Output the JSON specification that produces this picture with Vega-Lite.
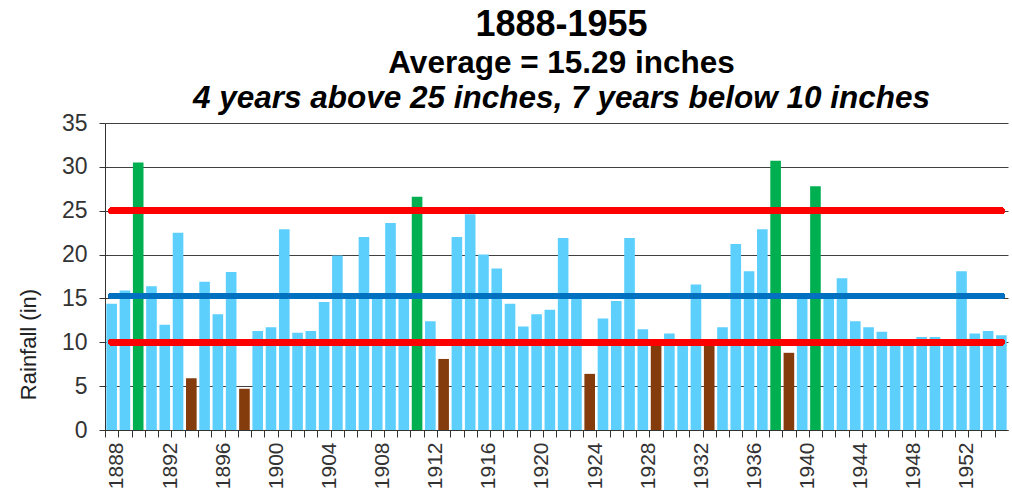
{
  "$schema": "https://vega.github.io/schema/vega-lite/v6.json",
  "width": 903,
  "height": 307,
  "autosize": {"type": "none"},
  "padding": {"left": 105, "top": 123, "right": 4, "bottom": 67},
  "background": "white",
  "config": {
    "font": "Liberation Sans",
    "view": {"stroke": null}
  },
  "title": {
    "text": "1888-1955",
    "subtitle": "Average = 15.29 inches",
    "anchor": "middle",
    "dx": 5,
    "font": "Liberation Sans",
    "fontSize": 36,
    "fontWeight": "bold",
    "color": "#000000",
    "subtitleFont": "Liberation Sans",
    "subtitleFontSize": 31.5,
    "subtitleFontWeight": "bold",
    "subtitleColor": "#000000",
    "subtitlePadding": 4,
    "offset": 2
  },
  "data": {
    "values": [
      {"year": 1888, "rain": 14.4, "cat": "normal"},
      {"year": 1889, "rain": 15.9, "cat": "normal"},
      {"year": 1890, "rain": 30.5, "cat": "high"},
      {"year": 1891, "rain": 16.4, "cat": "normal"},
      {"year": 1892, "rain": 12.0, "cat": "normal"},
      {"year": 1893, "rain": 22.5, "cat": "normal"},
      {"year": 1894, "rain": 5.9, "cat": "low"},
      {"year": 1895, "rain": 16.9, "cat": "normal"},
      {"year": 1896, "rain": 13.2, "cat": "normal"},
      {"year": 1897, "rain": 18.0, "cat": "normal"},
      {"year": 1898, "rain": 4.7, "cat": "low"},
      {"year": 1899, "rain": 11.3, "cat": "normal"},
      {"year": 1900, "rain": 11.7, "cat": "normal"},
      {"year": 1901, "rain": 22.9, "cat": "normal"},
      {"year": 1902, "rain": 11.1, "cat": "normal"},
      {"year": 1903, "rain": 11.3, "cat": "normal"},
      {"year": 1904, "rain": 14.6, "cat": "normal"},
      {"year": 1905, "rain": 19.9, "cat": "normal"},
      {"year": 1906, "rain": 15.2, "cat": "normal"},
      {"year": 1907, "rain": 22.0, "cat": "normal"},
      {"year": 1908, "rain": 15.2, "cat": "normal"},
      {"year": 1909, "rain": 23.6, "cat": "normal"},
      {"year": 1910, "rain": 15.2, "cat": "normal"},
      {"year": 1911, "rain": 26.6, "cat": "high"},
      {"year": 1912, "rain": 12.4, "cat": "normal"},
      {"year": 1913, "rain": 8.1, "cat": "low"},
      {"year": 1914, "rain": 22.0, "cat": "normal"},
      {"year": 1915, "rain": 24.6, "cat": "normal"},
      {"year": 1916, "rain": 20.0, "cat": "normal"},
      {"year": 1917, "rain": 18.4, "cat": "normal"},
      {"year": 1918, "rain": 14.4, "cat": "normal"},
      {"year": 1919, "rain": 11.8, "cat": "normal"},
      {"year": 1920, "rain": 13.2, "cat": "normal"},
      {"year": 1921, "rain": 13.7, "cat": "normal"},
      {"year": 1922, "rain": 21.9, "cat": "normal"},
      {"year": 1923, "rain": 15.2, "cat": "normal"},
      {"year": 1924, "rain": 6.4, "cat": "low"},
      {"year": 1925, "rain": 12.7, "cat": "normal"},
      {"year": 1926, "rain": 14.7, "cat": "normal"},
      {"year": 1927, "rain": 21.9, "cat": "normal"},
      {"year": 1928, "rain": 11.5, "cat": "normal"},
      {"year": 1929, "rain": 9.8, "cat": "low"},
      {"year": 1930, "rain": 11.0, "cat": "normal"},
      {"year": 1931, "rain": 10.2, "cat": "normal"},
      {"year": 1932, "rain": 16.6, "cat": "normal"},
      {"year": 1933, "rain": 9.7, "cat": "low"},
      {"year": 1934, "rain": 11.7, "cat": "normal"},
      {"year": 1935, "rain": 21.2, "cat": "normal"},
      {"year": 1936, "rain": 18.1, "cat": "normal"},
      {"year": 1937, "rain": 22.9, "cat": "normal"},
      {"year": 1938, "rain": 30.7, "cat": "high"},
      {"year": 1939, "rain": 8.8, "cat": "low"},
      {"year": 1940, "rain": 15.2, "cat": "normal"},
      {"year": 1941, "rain": 27.8, "cat": "high"},
      {"year": 1942, "rain": 15.2, "cat": "normal"},
      {"year": 1943, "rain": 17.3, "cat": "normal"},
      {"year": 1944, "rain": 12.4, "cat": "normal"},
      {"year": 1945, "rain": 11.7, "cat": "normal"},
      {"year": 1946, "rain": 11.2, "cat": "normal"},
      {"year": 1947, "rain": 10.2, "cat": "normal"},
      {"year": 1948, "rain": 10.3, "cat": "normal"},
      {"year": 1949, "rain": 10.6, "cat": "normal"},
      {"year": 1950, "rain": 10.6, "cat": "normal"},
      {"year": 1951, "rain": 10.3, "cat": "normal"},
      {"year": 1952, "rain": 18.1, "cat": "normal"},
      {"year": 1953, "rain": 11.0, "cat": "normal"},
      {"year": 1954, "rain": 11.3, "cat": "normal"},
      {"year": 1955, "rain": 10.8, "cat": "normal"}
    ]
  },
  "layer": [
    {
      "mark": {"type": "bar"},
      "encoding": {
        "x": {
          "field": "year",
          "type": "ordinal",
          "scale": {"paddingInner": 0.2, "paddingOuter": 0.1},
          "axis": {
            "title": null,
            "bandPosition": 0,
            "tickOffset": -1.33,
            "labelOffset": 6.64,
            "labelAngle": -90,
            "labelFontSize": 21,
            "labelColor": "#333333",
            "labelPadding": 5,
            "labelExpr": "(datum.value - 1888) % 4 == 0 ? datum.value : ''",
            "labelOverlap": false,
            "tickSize": 7,
            "tickColor": "#333333",
            "domainColor": "#333333",
            "grid": false
          }
        },
        "y": {
          "field": "rain",
          "type": "quantitative",
          "scale": {"domain": [0, 35], "nice": false},
          "axis": {
            "title": "Rainfall (in)",
            "titleFontSize": 22,
            "titleFontWeight": "normal",
            "titleColor": "#222222",
            "titleX": -77,
            "titleY": 221,
            "titleAlign": "center",
            "titleBaseline": "middle",
            "titleAngle": -90,
            "values": [0, 5, 10, 15, 20, 25, 30, 35],
            "labelFontSize": 23,
            "labelColor": "#333333",
            "labelPadding": 12,
            "tickSize": 6,
            "tickColor": "#333333",
            "domainColor": "#333333",
            "grid": true,
            "gridColor": "#404040",
            "gridWidth": 1
          }
        },
        "color": {
          "field": "cat",
          "type": "nominal",
          "scale": {"domain": ["normal", "high", "low"], "range": ["#5DCFFD", "#00B050", "#843C0C"]},
          "legend": null
        }
      }
    },
    {
      "mark": {"type": "rule", "color": "#0070C0", "strokeWidth": 6, "strokeCap": "round"},
      "encoding": {
        "x": {
          "datum": 1888,
          "type": "ordinal",
          "bandPosition": 0.5,
          "axis": {
            "orient": "top",
            "title": "4 years above 25 inches, 7 years below 10 inches",
            "titleFont": "Liberation Sans",
            "titleFontSize": 31.5,
            "titleFontWeight": "bold",
            "titleFontStyle": "italic",
            "titleColor": "#000000",
            "titleX": 456,
            "titleY": -16,
            "titleAlign": "center",
            "titleBaseline": "alphabetic",
            "labels": false,
            "ticks": false,
            "domain": false,
            "grid": false
          }
        },
        "x2": {"datum": 1955, "bandPosition": 0.5},
        "y": {"datum": 15.29, "type": "quantitative"}
      }
    },
    {
      "mark": {"type": "rule", "color": "#FF0000", "strokeWidth": 6, "strokeCap": "round"},
      "encoding": {
        "x": {"datum": 1888, "type": "ordinal", "bandPosition": 0.5, "axis": null},
        "x2": {"datum": 1955, "bandPosition": 0.5},
        "y": {"datum": 25, "type": "quantitative"}
      }
    },
    {
      "mark": {"type": "rule", "color": "#FF0000", "strokeWidth": 6, "strokeCap": "round"},
      "encoding": {
        "x": {"datum": 1888, "type": "ordinal", "bandPosition": 0.5, "axis": null},
        "x2": {"datum": 1955, "bandPosition": 0.5},
        "y": {"datum": 10, "type": "quantitative"}
      }
    }
  ],
  "resolve": {"axis": {"x": "independent"}}
}
